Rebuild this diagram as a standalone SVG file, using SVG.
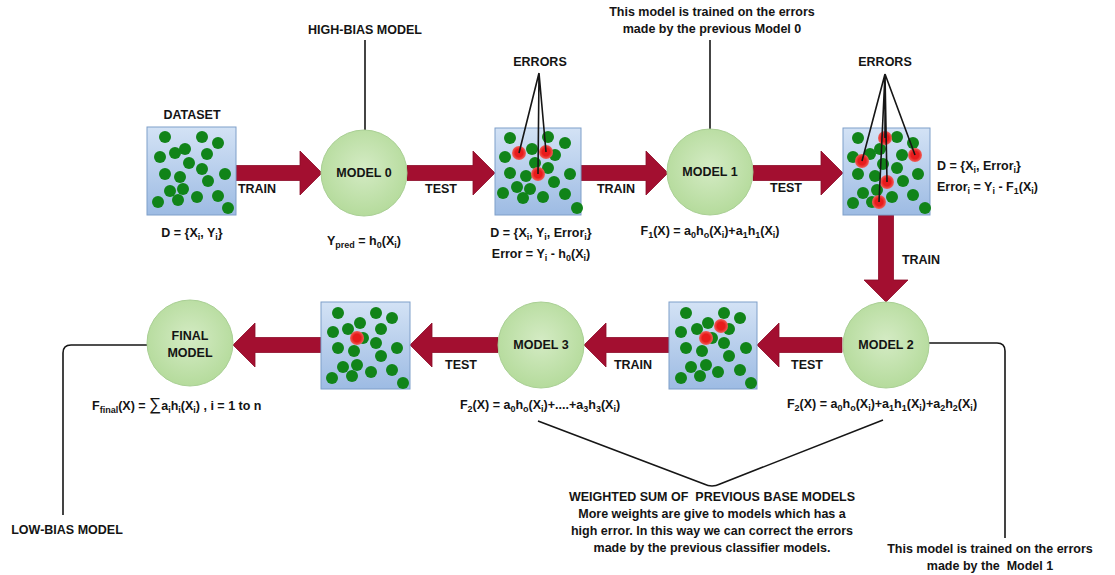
<svg xmlns="http://www.w3.org/2000/svg" xmlns:xlink="http://www.w3.org/1999/xlink" width="1115" height="575" viewBox="0 0 1115 575">
<style>
.t{font-family:"Liberation Sans",Arial,sans-serif;font-weight:bold;font-size:12.5px;fill:#141414;text-anchor:middle;white-space:pre}
.l{text-anchor:start}
.s{font-size:9px;baseline-shift:-3px}
.box{fill:url(#bg);stroke:#7f9fc9;stroke-width:1}
.mod{fill:url(#cg);stroke:#a9cf94;stroke-width:1}
.arr{fill:#a30f30;stroke:#8c0a27;stroke-width:0.8}
.ln{fill:none;stroke:#161616;stroke-width:1.6}
</style>
<defs>
<linearGradient id="bg" x1="0" y1="0" x2="0" y2="1"><stop offset="0" stop-color="#d3e2f5"/><stop offset="1" stop-color="#9dbbe3"/></linearGradient>
<radialGradient id="cg" cx="0.5" cy="0.45" r="0.55"><stop offset="0" stop-color="#d4ebc4"/><stop offset="1" stop-color="#b5db9c"/></radialGradient>
<radialGradient id="rg"><stop offset="0.55" stop-color="#e81c1c"/><stop offset="1" stop-color="#f0605a"/></radialGradient>
<circle id="g" r="6" fill="#118419"/>
<circle id="r" r="7" fill="url(#rg)"/>
</defs>
<rect width="1115" height="575" fill="#ffffff"/>

<g id="connectors">
<polygon class="arr" points="236,165.5 300,165.5 300,151 322,173 300,195 300,180.5 236,180.5"/>
<polygon class="arr" points="407,165.5 473,165.5 473,151 495,173 473,195 473,180.5 407,180.5"/>
<polygon class="arr" points="581,165.5 646,165.5 646,151 668,173 646,195 646,180.5 581,180.5"/>
<polygon class="arr" points="753,165.5 821,165.5 821,151 843,173 821,195 821,180.5 753,180.5"/>
<polygon class="arr" points="878.5,215 878.5,280 864,280 886,302 908,280 893.5,280 893.5,215"/>
<polygon class="arr" points="842,337.5 779,337.5 779,323 757,345 779,367 779,352.5 842,352.5"/>
<polygon class="arr" points="669,337.5 606,337.5 606,323 584,345 606,367 606,352.5 669,352.5"/>
<polygon class="arr" points="498,337.5 432,337.5 432,323 410,345 432,367 432,352.5 498,352.5"/>
<polygon class="arr" points="321,337.5 255,337.5 255,323 233,345 255,367 255,352.5 321,352.5"/>
<text class="t" x="257" y="193">TRAIN</text>
<text class="t" x="441" y="193">TEST</text>
<text class="t" x="616" y="193">TRAIN</text>
<text class="t" x="786" y="192">TEST</text>
<text class="t" x="921" y="264">TRAIN</text>
<text class="t" x="807" y="369">TEST</text>
<text class="t" x="633" y="369">TRAIN</text>
<text class="t" x="461" y="369">TEST</text>
<path class="ln" d="M365 40 V130"/>
<path class="ln" d="M710 40 V129"/>
<path class="ln" d="M929 343 H997 Q1005 343 1005 351 V538"/>
<path class="ln" d="M147 345 H71 Q63 345 63 353 V515"/>
<path class="ln" d="M538 421 L704 484 Q712 488 720 484 L883 420"/>
</g>

<g id="dataset">
<text class="t" x="192" y="119">DATASET</text>
<rect class="box" x="147" y="127" width="89" height="88"/>
<use href="#g" x="165" y="137"/><use href="#g" x="202" y="137"/><use href="#g" x="218" y="143"/><use href="#g" x="160" y="157"/><use href="#g" x="175" y="153"/><use href="#g" x="185" y="149"/><use href="#g" x="207" y="154"/><use href="#g" x="189" y="163"/><use href="#g" x="202" y="169"/><use href="#g" x="165" y="174"/><use href="#g" x="180" y="177"/><use href="#g" x="225" y="174"/><use href="#g" x="208" y="181"/><use href="#g" x="170" y="191"/><use href="#g" x="183" y="189"/><use href="#g" x="158" y="202"/><use href="#g" x="178" y="200"/><use href="#g" x="197" y="197"/><use href="#g" x="218" y="196"/><use href="#g" x="228" y="208"/>
<text class="t" x="192" y="237">D = {X<tspan class="s">i</tspan>, Y<tspan class="s">i</tspan>}</text>
</g>

<g id="model0">
<text class="t" x="365" y="34">HIGH-BIAS MODEL</text>
<circle class="mod" cx="364" cy="173" r="43"/>
<text class="t" x="364" y="177">MODEL 0</text>
<text class="t" x="364" y="245">Y<tspan class="s">pred</tspan> = h<tspan class="s">0</tspan>(X<tspan class="s">i</tspan>)</text>
</g>

<g id="errors1">
<text class="t" x="540" y="66">ERRORS</text>
<rect class="box" x="495" y="128" width="86" height="87"/>
<use href="#g" x="510" y="138"/><use href="#g" x="548" y="137"/><use href="#g" x="565" y="143"/><use href="#g" x="505" y="157"/><use href="#g" x="532" y="149"/><use href="#g" x="555" y="155"/><use href="#g" x="535" y="163"/><use href="#g" x="548" y="168"/><use href="#g" x="510" y="173"/><use href="#g" x="526" y="176"/><use href="#g" x="570" y="174"/><use href="#g" x="554" y="182"/><use href="#g" x="517" y="187"/><use href="#g" x="530" y="189"/><use href="#g" x="503" y="193"/><use href="#g" x="523" y="198"/><use href="#g" x="543" y="197"/><use href="#g" x="565" y="194"/><use href="#g" x="577" y="208"/>
<use href="#r" x="519" y="153"/><use href="#r" x="546" y="152"/><use href="#r" x="538" y="174"/>
<path class="ln" d="M539 73 L519 153 M539 73 L546 152 M539 73 L538 174"/>
<text class="t" x="541" y="237">D = {X<tspan class="s">i</tspan>, Y<tspan class="s">i</tspan>, Error<tspan class="s">i</tspan>}</text>
<text class="t" x="541" y="258">Error = Y<tspan class="s">i</tspan> - h<tspan class="s">0</tspan>(X<tspan class="s">i</tspan>)</text>
</g>

<g id="model1">
<text class="t" x="712" y="16">This model is trained on the errors</text>
<text class="t" x="712" y="33">made by the previous Model 0</text>
<circle class="mod" cx="710" cy="172" r="43"/>
<text class="t" x="710" y="176">MODEL 1</text>
<text class="t" x="710" y="235">F<tspan class="s">1</tspan>(X) = a<tspan class="s">0</tspan>h<tspan class="s">o</tspan>(X<tspan class="s">i</tspan>)+a<tspan class="s">1</tspan>h<tspan class="s">1</tspan>(X<tspan class="s">i</tspan>)</text>
</g>

<g id="errors2">
<text class="t" x="885" y="66">ERRORS</text>
<rect class="box" x="843" y="128" width="87" height="87"/>
<use href="#g" x="858" y="138"/><use href="#g" x="897" y="137"/><use href="#g" x="913" y="143"/><use href="#g" x="853" y="157"/><use href="#g" x="870" y="154"/><use href="#g" x="880" y="149"/><use href="#g" x="902" y="155"/><use href="#g" x="883" y="164"/><use href="#g" x="897" y="168"/><use href="#g" x="858" y="174"/><use href="#g" x="875" y="176"/><use href="#g" x="918" y="174"/><use href="#g" x="903" y="181"/><use href="#g" x="863" y="193"/><use href="#g" x="877" y="190"/><use href="#g" x="853" y="203"/><use href="#g" x="872" y="202"/><use href="#g" x="892" y="197"/><use href="#g" x="913" y="195"/><use href="#g" x="925" y="208"/>
<use href="#r" x="862" y="161"/><use href="#r" x="885" y="138"/><use href="#r" x="915" y="155"/><use href="#r" x="887" y="182"/><use href="#r" x="879" y="202"/>
<path class="ln" d="M885 74 L862 161 M885 74 L885 138 M885 74 L915 155 M885 74 L887 182 M885 74 L879 202"/>
<text class="t l" x="937" y="170">D = {X<tspan class="s">i</tspan>, Error<tspan class="s">i</tspan>}</text>
<text class="t l" x="937" y="191">Error<tspan class="s">i</tspan> = Y<tspan class="s">i</tspan> - F<tspan class="s">1</tspan>(X<tspan class="s">i</tspan>)</text>
</g>

<g id="model2">
<circle class="mod" cx="886" cy="345" r="43"/>
<text class="t" x="886" y="349">MODEL 2</text>
<text class="t" x="882" y="408">F<tspan class="s">2</tspan>(X) = a<tspan class="s">0</tspan>h<tspan class="s">o</tspan>(X<tspan class="s">i</tspan>)+a<tspan class="s">1</tspan>h<tspan class="s">1</tspan>(X<tspan class="s">i</tspan>)+a<tspan class="s">2</tspan>h<tspan class="s">2</tspan>(X<tspan class="s">i</tspan>)</text>
<text class="t" x="990" y="553">This model is trained on the errors</text>
<text class="t" x="990" y="570">made by the  Model 1</text>
</g>

<g id="data3">
<rect class="box" x="669" y="302" width="88" height="87"/>
<use href="#g" x="686" y="313"/><use href="#g" x="724" y="313"/><use href="#g" x="740" y="318"/><use href="#g" x="681" y="332"/><use href="#g" x="697" y="329"/><use href="#g" x="708" y="323"/><use href="#g" x="729" y="329"/><use href="#g" x="712" y="338"/><use href="#g" x="724" y="343"/><use href="#g" x="686" y="348"/><use href="#g" x="702" y="351"/><use href="#g" x="746" y="348"/><use href="#g" x="729" y="356"/><use href="#g" x="691" y="367"/><use href="#g" x="706" y="365"/><use href="#g" x="681" y="378"/><use href="#g" x="700" y="376"/><use href="#g" x="718" y="372"/><use href="#g" x="740" y="370"/><use href="#g" x="751" y="383"/>
<use href="#r" x="721" y="326"/><use href="#r" x="706" y="338"/>
</g>

<g id="model3">
<circle class="mod" cx="541" cy="345" r="43"/>
<text class="t" x="541" y="349">MODEL 3</text>
<text class="t" x="540" y="409">F<tspan class="s">2</tspan>(X) = a<tspan class="s">0</tspan>h<tspan class="s">o</tspan>(X<tspan class="s">i</tspan>)+....+a<tspan class="s">3</tspan>h<tspan class="s">3</tspan>(X<tspan class="s">i</tspan>)</text>
</g>

<g id="data4">
<rect class="box" x="321" y="302" width="89" height="87"/>
<use href="#g" x="338" y="313"/><use href="#g" x="376" y="313"/><use href="#g" x="392" y="318"/><use href="#g" x="333" y="332"/><use href="#g" x="348" y="329"/><use href="#g" x="360" y="323"/><use href="#g" x="381" y="329"/><use href="#g" x="363" y="338"/><use href="#g" x="376" y="343"/><use href="#g" x="338" y="348"/><use href="#g" x="354" y="351"/><use href="#g" x="397" y="348"/><use href="#g" x="381" y="356"/><use href="#g" x="343" y="367"/><use href="#g" x="357" y="365"/><use href="#g" x="332" y="378"/><use href="#g" x="352" y="376"/><use href="#g" x="371" y="372"/><use href="#g" x="392" y="370"/><use href="#g" x="403" y="383"/>
<use href="#r" x="357" y="338"/>
</g>

<g id="final">
<circle class="mod" cx="190" cy="343" r="43"/>
<text class="t" x="190" y="340">FINAL</text>
<text class="t" x="190" y="357">MODEL</text>
<text class="t l" x="92" y="410">F<tspan class="s">final</tspan>(X) = <tspan font-size="17" font-weight="normal">∑</tspan>a<tspan class="s">i</tspan>h<tspan class="s">i</tspan>(X<tspan class="s">i</tspan>) , i = 1 to n</text>
<text class="t" x="67" y="534">LOW-BIAS MODEL</text>
</g>

<g id="note">
<text class="t" x="712" y="501">WEIGHTED SUM OF  PREVIOUS BASE MODELS</text>
<text class="t" x="712" y="518">More weights are give to models which has a</text>
<text class="t" x="712" y="535">high error. In this way we can correct the errors</text>
<text class="t" x="712" y="552">made by the previous classifier models.</text>
</g>
</svg>
